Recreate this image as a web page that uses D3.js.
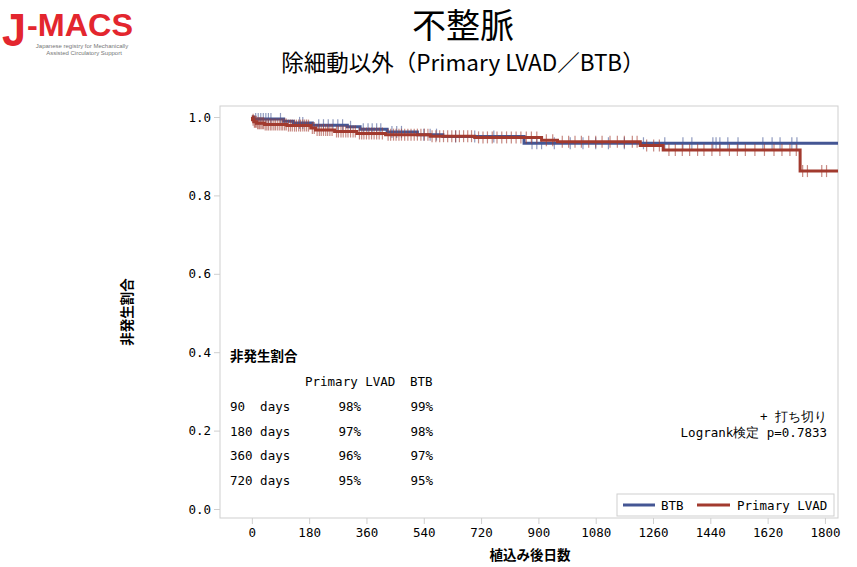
<!DOCTYPE html>
<html>
<head>
<meta charset="utf-8">
<script src="https://cdn.jsdelivr.net/npm/d3@7"></script>
<style>
  body { margin: 0; background: #fff; }
  svg { display: block; }
</style>
</head>
<body>
<svg id="chart"></svg>
<script>
// Kaplan-Meier step points [day, survival]
const lvadSteps = [[0, 1.0], [2, 0.993], [6, 0.988], [15, 0.984], [40, 0.981], [110, 0.978], [185, 0.972],
  [200, 0.967], [260, 0.963], [330, 0.958], [420, 0.955], [560, 0.951], [700, 0.948], [910, 0.941],
  [960, 0.937], [1220, 0.927], [1292, 0.916], [1722, 0.862], [1841, 0.862]];
const btbSteps = [[0, 1.0], [5, 0.995], [100, 0.989], [130, 0.985], [190, 0.979], [300, 0.975], [340, 0.969],
  [425, 0.962], [520, 0.955], [600, 0.950], [855, 0.933], [1841, 0.933]];

// censored observations (days)
const lvadCensor = [4, 8, 11, 14, 18, 22, 25, 29, 33, 37, 42, 47, 52, 58, 63, 69, 74, 80, 86, 92, 97, 103,
  108, 115, 121, 127, 134, 140, 147, 153, 160, 166, 172, 178, 190, 196, 205, 212, 218, 225, 232, 238, 245,
  252, 266, 272, 280, 287, 295, 302, 310, 318, 325, 338, 345, 352, 360, 368, 376, 384, 392, 400, 410, 428,
  436, 445, 453, 462, 470, 480, 490, 500, 510, 520, 531, 542, 553, 566, 578, 590, 602, 615, 628, 640, 652,
  665, 678, 690, 712, 726, 740, 755, 770, 785, 800, 815, 830, 845, 862, 878, 895, 925, 945, 975, 995, 1015,
  1035, 1058, 1080, 1100, 1125, 1148, 1170, 1195, 1210, 1240, 1262, 1280, 1310, 1330, 1352, 1375, 1400,
  1420, 1445, 1470, 1500, 1525, 1550, 1580, 1610, 1640, 1665, 1690, 1710, 1730, 1745, 1790, 1805];
const btbCensor = [12, 20, 28, 36, 44, 52, 60, 90, 150, 160, 210, 225, 240, 255, 270, 285, 310, 350, 365,
  378, 392, 405, 440, 455, 470, 540, 560, 580, 640, 700, 760, 880, 895, 910, 950, 1000, 1040, 1080, 1120,
  1170, 1230, 1297, 1354, 1382, 1448, 1458, 1470, 1495, 1527, 1605, 1634, 1659, 1696, 1712];

const xTicks = [0, 180, 360, 540, 720, 900, 1080, 1260, 1440, 1620, 1800];
const yTicks = [0, 0.2, 0.4, 0.6, 0.8, 1.0];

const tableDays = ["90  days", "180 days", "360 days", "720 days"];
const tableLvad = ["98%", "97%", "96%", "95%"];
const tableBtb = ["99%", "98%", "97%", "95%"];

const W = 857, H = 567;
const C_BTB = "#445694", C_LVAD = "#A23A2E";
const mono = "'DejaVu Sans Mono', 'Liberation Mono', monospace";
const jp = "'Noto Sans CJK JP', sans-serif";

const svg = d3.select("#chart").attr("width", W).attr("height", H);

// frame
const L = 220, R = 838, T = 106, B = 518;
const x = d3.scaleLinear().domain([-100, 1841]).range([L, R]);
const y = d3.scaleLinear().domain([0, 1]).range([509, 117]);

// logo
const logo = svg.append("g").attr("font-family", "'Liberation Sans', Arial, sans-serif");
logo.append("text").attr("x", 2).attr("y", 46).attr("font-weight", "bold")
  .attr("font-size", 46).attr("fill", "#e3262e")
  .attr("textLength", 24).attr("lengthAdjust", "spacingAndGlyphs").text("J");
logo.append("text").attr("x", 27).attr("y", 36).attr("font-weight", "bold")
  .attr("font-size", 32).attr("fill", "#e3262e")
  .attr("textLength", 106).attr("lengthAdjust", "spacingAndGlyphs").text("-MACS");
logo.append("text").attr("x", 82).attr("y", 48).attr("text-anchor", "middle")
  .attr("font-size", 6).attr("fill", "#777")
  .text("Japanese registry for Mechanically");
logo.append("text").attr("x", 84).attr("y", 55).attr("text-anchor", "middle")
  .attr("font-size", 6).attr("fill", "#777")
  .text("Assisted Circulatory Support");

// titles
svg.append("text").attr("x", 463).attr("y", 38).attr("text-anchor", "middle")
  .attr("font-family", jp).attr("font-size", 34).attr("fill", "#000").text("不整脈");
svg.append("text").attr("x", 463).attr("y", 71).attr("text-anchor", "middle")
  .attr("font-family", jp).attr("font-size", 22.5).attr("fill", "#000").text("除細動以外（Primary LVAD／BTB）");

// frame rect
svg.append("rect").attr("x", L).attr("y", T).attr("width", R - L).attr("height", B - T)
  .attr("fill", "none").attr("stroke", "#cfcfcf").attr("stroke-width", 1);

// axes
const yAxis = svg.append("g").attr("transform", `translate(${L},0)`)
  .call(d3.axisLeft(y).tickValues(yTicks).tickFormat(d3.format(".1f")).tickSize(6).tickPadding(3));
const xAxis = svg.append("g").attr("transform", `translate(0,${B})`)
  .call(d3.axisBottom(x).tickValues(xTicks).tickFormat(d3.format("d")).tickSize(6).tickPadding(4));
[yAxis, xAxis].forEach(a => {
  a.select(".domain").remove();
  a.selectAll("line").attr("stroke", "#cfcfcf");
  a.selectAll("text").attr("font-family", mono).attr("font-size", 12.5).attr("fill", "#000");
});

svg.append("text").attr("x", 530).attr("y", 560).attr("text-anchor", "middle")
  .attr("font-family", jp).attr("font-weight", "bold").attr("font-size", 13.5).text("植込み後日数");
svg.append("text").attr("transform", "translate(132,312) rotate(-90)").attr("text-anchor", "middle")
  .attr("font-family", jp).attr("font-weight", "bold").attr("font-size", 13.5).text("非発生割合");

// curves
const stepLine = d3.line().x(d => x(d[0])).y(d => y(d[1])).curve(d3.curveStepAfter);
function survAt(steps, t) {
  let s = steps[0][1];
  for (const p of steps) { if (p[0] <= t) s = p[1]; }
  return s;
}
const series = [
  { steps: btbSteps, censor: btbCensor, color: C_BTB },
  { steps: lvadSteps, censor: lvadCensor, color: C_LVAD }
];
series.forEach(s => {
  svg.append("g").selectAll("line").data(s.censor).join("line")
    .attr("x1", d => x(d)).attr("x2", d => x(d))
    .attr("y1", d => y(survAt(s.steps, d)) - 6).attr("y2", d => y(survAt(s.steps, d)) + 6)
    .attr("stroke", s.color).attr("stroke-width", 1.2).attr("stroke-opacity", 0.6);
  svg.append("path").datum(s.steps).attr("d", stepLine)
    .attr("fill", "none").attr("stroke", s.color).attr("stroke-width", 3);
});

// survival table
const tb = svg.append("g").attr("font-family", mono).attr("font-size", 12.5).attr("fill", "#000");
tb.append("text").attr("x", 230).attr("y", 361).attr("font-family", jp).attr("font-weight", "bold")
  .attr("font-size", 13.5).text("非発生割合");
tb.append("text").attr("x", 305).attr("y", 386).text("Primary LVAD");
tb.append("text").attr("x", 410).attr("y", 386).text("BTB");
tableDays.forEach((d, i) => {
  const yy = 411 + i * 24.7;
  tb.append("text").attr("x", 230).attr("y", yy).style("white-space", "pre").text(d);
  tb.append("text").attr("x", 361).attr("y", yy).attr("text-anchor", "end").text(tableLvad[i]);
  tb.append("text").attr("x", 433).attr("y", yy).attr("text-anchor", "end").text(tableBtb[i]);
});

// censor note and logrank
svg.append("text").attr("x", 827).attr("y", 421).attr("text-anchor", "end")
  .attr("font-family", mono).attr("font-size", 12.5).text("+ 打ち切り");
svg.append("text").attr("x", 827).attr("y", 437).attr("text-anchor", "end")
  .attr("font-family", mono).attr("font-size", 12.5).text("Logrank検定 p=0.7833");

// legend
const lg = svg.append("g");
lg.append("rect").attr("x", 617).attr("y", 494).attr("width", 217).attr("height", 22)
  .attr("fill", "#fff").attr("stroke", "#cfcfcf");
lg.append("line").attr("x1", 623).attr("x2", 655).attr("y1", 505).attr("y2", 505)
  .attr("stroke", C_BTB).attr("stroke-width", 3);
lg.append("text").attr("x", 661).attr("y", 510).attr("font-family", mono).attr("font-size", 12.5).text("BTB");
lg.append("line").attr("x1", 697).attr("x2", 730).attr("y1", 505).attr("y2", 505)
  .attr("stroke", C_LVAD).attr("stroke-width", 3);
lg.append("text").attr("x", 737).attr("y", 510).attr("font-family", mono).attr("font-size", 12.5).text("Primary LVAD");
</script>
</body>
</html>
